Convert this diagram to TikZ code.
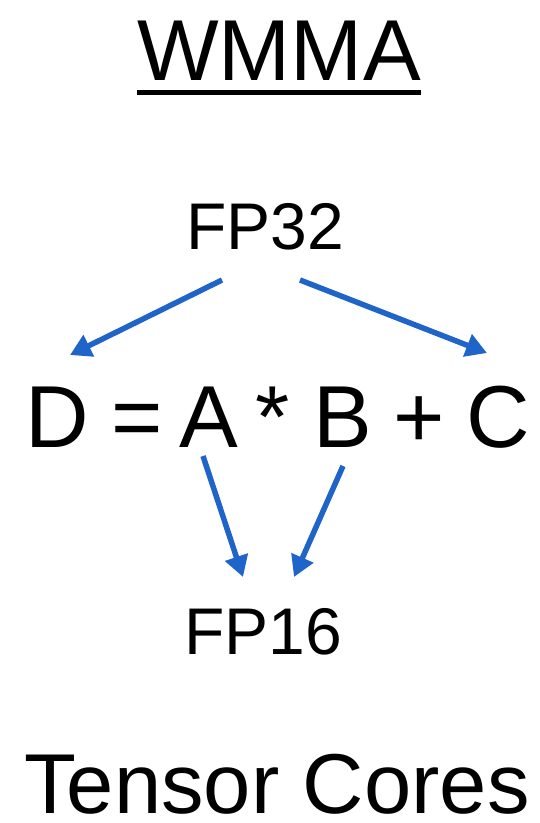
\documentclass[tikz,border=0pt]{standalone}
\usepackage{fontspec}
\setmainfont{Liberation Sans}
\usetikzlibrary{arrows.meta}
\definecolor{arrowblue}{RGB}{31,100,200}
\begin{document}
\begin{tikzpicture}[x=1pt,y=-1pt,
  lbl/.style={inner sep=0pt,anchor=base,text=black},
  big/.style={lbl,font=\fontsize{88}{100}\selectfont},
  mid/.style={lbl,font=\fontsize{66}{78}\selectfont},
  conn/.style={draw=arrowblue,line width=5.5pt,-{Triangle[length=21pt,width=23pt]}}]
\useasboundingbox (0,0) rectangle (540,823);
\node[lbl,font=\fontsize{86.5}{100}\selectfont] (wmma) at (279,80) {WMMA};
\draw[line width=5.5pt] ([yshift=-12.5pt]wmma.base west) -- ([yshift=-12.5pt]wmma.base east);
\node[mid] (fp32) at (265,249) {FP32};
% equation
\node[big] (d) at (57.5,447) {D};
\node[big] (eqs) at (137,447) {=};
\node[big] (a) at (208.5,447) {A};
\node[big] (times) at (273,447) {*};
\node[big] (b) at (342.5,447) {B};
\node[big] (plus) at (419,447) {+};
\node[big] (c) at (498.5,447) {C};
\node[mid] (fp16) at (263,654) {FP16};
\node[lbl,font=\fontsize{85}{100}\selectfont] (tc) at (277,813) {Tensor Cores};
\coordinate (s1) at (222,280);
\coordinate (e1) at (70,355);
\coordinate (s2) at (300,280);
\coordinate (e2) at (487,353);
\coordinate (s3) at (203,456);
\coordinate (e3) at (243,577);
\coordinate (s4) at (343,466);
\coordinate (e4) at (294,577);
\draw[conn] (s1) -- (e1);
\draw[conn] (s2) -- (e2);
\draw[conn] (s3) -- (e3);
\draw[conn] (s4) -- (e4);
\end{tikzpicture}
\end{document}
